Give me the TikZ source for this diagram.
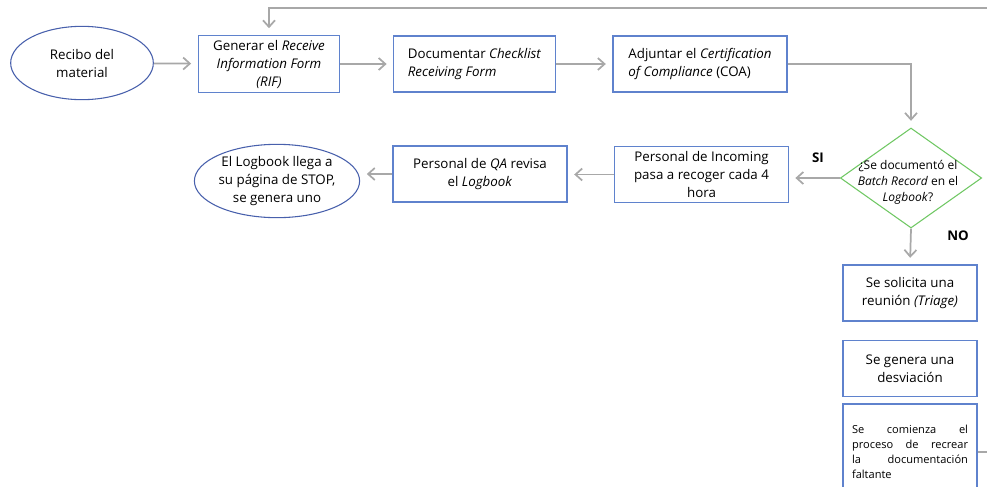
\documentclass[tikz,border=0pt]{standalone}
\usepackage{fontspec}
\setmainfont{Open Sans}
\usetikzlibrary{arrows.meta,positioning,calc,shapes.geometric}
\definecolor{boxblue}{RGB}{95,130,205}
\definecolor{ovalblue}{RGB}{72,96,172}
\definecolor{decgreen}{RGB}{112,200,100}
\definecolor{flowgray}{RGB}{168,168,168}

\begin{document}
\begin{tikzpicture}[x=0.75pt,y=-0.75pt,
  proc/.style={rectangle,draw=boxblue,line width=0.8pt,fill=white,minimum height=42pt,align=center,font=\fontsize{10}{13.5}\selectfont},
  oval/.style={ellipse,draw=ovalblue,line width=0.8pt,fill=white,minimum width=107pt,minimum height=55pt,inner sep=0pt,align=center,font=\fontsize{10}{13.5}\selectfont},
  flow/.style={draw=flowgray,line width=1.3pt,-{Straight Barb[length=5pt,width=9pt]},shorten >=5pt},
  answer/.style={font=\bfseries\fontsize{10}{12}\selectfont}]
\useasboundingbox (0,0) rectangle (987,486);
\clip (0,0) rectangle (987,486);
\node[oval] (recibo) at (82,63) {Recibo del\\material};
\node[proc,minimum width=106pt] (generar) at (269,64) {Generar el \emph{Receive}\\\emph{Information Form}\\\emph{(RIF)}};
\node[proc,minimum width=121pt,align=left] (checklist) at (474.5,64) {Documentar \emph{Checklist}\\\emph{Receiving Form}};
\node[proc,minimum width=130.5pt,align=left] (coa) at (700,64) {Adjuntar el \emph{Certification}\\\emph{of Compliance} (COA)};
\node[diamond,draw=decgreen,line width=0.8pt,fill=white,minimum width=106pt,minimum height=75pt,inner sep=0pt] (dec) at (911,178) {};
\node[align=center,inner sep=0pt,font=\fontsize{9}{12}\selectfont] (dectxt) at (908,182) {¿Se documentó el\\\emph{Batch Record} en el\\\emph{Logbook}?};
\node[proc,minimum width=130pt] (incoming) at (701.5,174.5) {Personal de Incoming\\pasa a recoger cada 4\\hora};
\node[proc,minimum width=130.5pt] (qa) at (480,174) {Personal de \emph{QA} revisa\\el \emph{Logbook}};
\node[oval,minimum width=120pt] (stop) at (277,181) {El Logbook llega a\\su página de STOP,\\se genera uno};
\node[answer] (si) at (818,158) {SI};
\node[answer] (no) at (958,236) {NO};
\node[proc,minimum width=100.5pt] (triage) at (910,293) {Se solicita una\\reunión \emph{(Triage)}};
\node[proc,minimum width=100.5pt] (desv) at (910,368.5) {Se genera una\\desviación};
\node[proc,minimum width=100.5pt,minimum height=72pt,text width=87pt,align=left,font=\fontsize{8.3}{11.2}\selectfont] (recrear) at (910,452) {Se\hfill comienza\hfill el\\proceso\hfill de\hfill recrear\\la\hfill documentación\\faltante};
\coordinate (topright) at (987,8);
\coordinate (rightout) at (987,452);
\draw[flow] (recibo) -- (generar);
\draw[flow] (generar) -- (checklist);
\draw[flow] (checklist) -- (coa);
\draw[flow] (coa.east) -| (dec.north);
\draw[flow] (dec.west) -- (dec.west -| incoming.east);
\draw[flow] (incoming.west) -- (incoming.west -| qa.east);
\draw[flow] (qa.west) -- (qa.west -| stop.east);
\draw[flow] (dec.south) -- (triage.north);
\draw[flow] (topright) -| (generar.north);
\draw[draw=flowgray,line width=1.3pt] (recrear.east) -- (rightout);
\end{tikzpicture}
\end{document}
